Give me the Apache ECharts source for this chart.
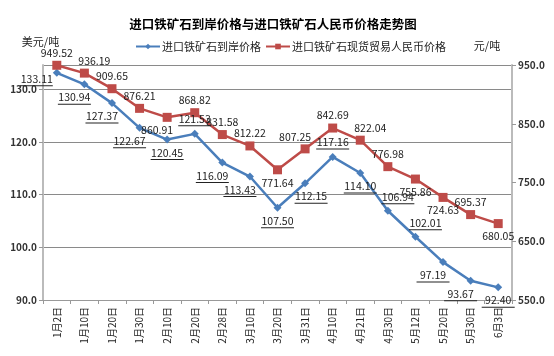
<!DOCTYPE html>
<html><head><meta charset="utf-8">
<script src="https://cdn.jsdelivr.net/npm/echarts@6/dist/echarts.min.js"></script>
<style>html,body{margin:0;padding:0;background:#fff}#c{width:554px;height:356px}</style>
</head><body><div id="c"></div>
<script>
const categories = ['1月2日','1月10日','1月20日','1月30日','2月10日','2月20日','2月28日','3月10日','3月20日','3月31日','4月10日','4月21日','4月30日','5月12日','5月20日','5月30日','6月3日'];
const usdPrice = [133.11,130.94,127.37,122.67,120.45,121.53,116.09,113.43,107.50,112.15,117.16,114.10,106.94,102.01,97.19,93.67,92.40];
const rmbPrice = [949.52,936.19,909.65,876.21,860.91,868.82,831.58,812.22,771.64,807.25,842.69,822.04,776.98,755.86,724.63,695.37,680.05];
const leftTicks = [90,100,110,120,130];
const rightTicks = [550,650,750,850,950];
// label placement (style only)
const usdLabelPos = ['left','bottomLeft','bottomLeft','bottomLeft','bottom','top','bottomLeft','bottomLeft','bottom','bottomRight','top','bottom','topRight','topRight','bottomLeft','bottomLeft','bottom'];
const rmbLabelPos = ['top','topRight','top','top','bottomLeft','top','top','top','bottom','topLeft','top','topRight','top','bottom','bottom','top','bottom'];

const FONT = 'Noto Sans CJK SC';
function posCfg(p){
  switch(p){
    case 'left': return {position:'left', distance:2, offset:[2,7]};
    case 'bottomLeft': return {position:'bottom', distance:3, offset:[-10,0]};
    case 'bottomRight': return {position:'bottom', distance:3, offset:[6,0]};
    case 'topRight': return {position:'top', distance:2, offset:[10,0]};
    case 'topLeft': return {position:'top', distance:2, offset:[-10,0]};
    case 'top': return {position:'top', distance:3};
    default: return {position:'bottom', distance:3};
  }
}
const usdData = usdPrice.map((v,i)=>({value:v, label:posCfg(usdLabelPos[i])}));
const rmbData = rmbPrice.map((v,i)=>({value:v, label:posCfg(rmbLabelPos[i])}));

const chart = echarts.init(document.getElementById('c'));
chart.setOption({
  animation:false,
  textStyle:{fontFamily:FONT},
  title:{text:'进口铁矿石到岸价格与进口铁矿石人民币价格走势图', left:268, textAlign:'center', top:13,
    textStyle:{fontSize:12.5, fontWeight:'bold', color:'#000', fontFamily:FONT}},
  legend:{top:36, left:130, itemWidth:24, itemHeight:7, itemGap:4,
    textStyle:{fontSize:11, color:'#222', fontFamily:FONT, padding:[0,0,0,-3]},
    data:['进口铁矿石到岸价格','进口铁矿石现货贸易人民币价格']},
  grid:{left:43, right:42, top:65, bottom:56},
  xAxis:{type:'category', data:categories, boundaryGap:true,
    axisLine:{lineStyle:{color:'#999'}},
    axisTick:{show:true, length:4, lineStyle:{color:'#999'}},
    axisLabel:{rotate:90, fontSize:10, color:'#222', margin:7, interval:0, fontFamily:FONT}},
  yAxis:[
    {type:'value', name:'美元/吨', nameLocation:'end', nameGap:18, min:90, max:134.6, interval:10,
      nameTextStyle:{fontSize:11, color:'#222', align:'center', padding:[0,0,0,-5]},
      axisLine:{show:true, lineStyle:{color:'#bbb', width:2}},
      axisTick:{show:true, length:4, lineStyle:{color:'#999'}},
      axisLabel:{fontSize:10, color:'#333', fontWeight:'bold', margin:6, showMaxLabel:false,
        formatter:v=>leftTicks.includes(v)?v.toFixed(1):''},
      splitLine:{show:true, lineStyle:{color:'#8a8a8a', width:1}}},
    {type:'value', name:'元/吨', nameLocation:'end', nameGap:14, min:550, max:950, interval:100,
      nameTextStyle:{fontSize:11, color:'#222', padding:[0,0,0,-50]},
      axisLine:{show:true, lineStyle:{color:'#bbb', width:2}},
      axisTick:{show:true, length:4, lineStyle:{color:'#999'}},
      axisLabel:{fontSize:10, color:'#333', fontWeight:'bold', margin:6,
        formatter:v=>rightTicks.includes(v)?v.toFixed(1):''},
      splitLine:{show:false}}
  ],
  series:[
    {name:'进口铁矿石到岸价格', type:'line', yAxisIndex:0, data:usdData,
      symbol:'diamond', symbolSize:8, color:'#4a7ebb',
      lineStyle:{width:2.5, color:'#4a7ebb'}, itemStyle:{color:'#4a7ebb'},
      label:{show:true, fontSize:10.5, color:'#222', fontFamily:FONT,
        formatter:p=>'{v|'+p.value.toFixed(2)+'}\n{u|}',
        rich:{v:{fontSize:10.5, color:'#222', lineHeight:12, fontFamily:FONT},
              u:{width:33, height:1, backgroundColor:'#222', lineHeight:2}}}},
    {name:'进口铁矿石现货贸易人民币价格', type:'line', yAxisIndex:1, data:rmbData,
      symbol:'rect', symbolSize:9, color:'#be4b48',
      lineStyle:{width:2.5, color:'#be4b48'}, itemStyle:{color:'#be4b48'},
      label:{show:true, fontSize:10.5, color:'#222', fontFamily:FONT,
        formatter:p=>p.value.toFixed(2)}}
  ]
});
</script></body></html>
